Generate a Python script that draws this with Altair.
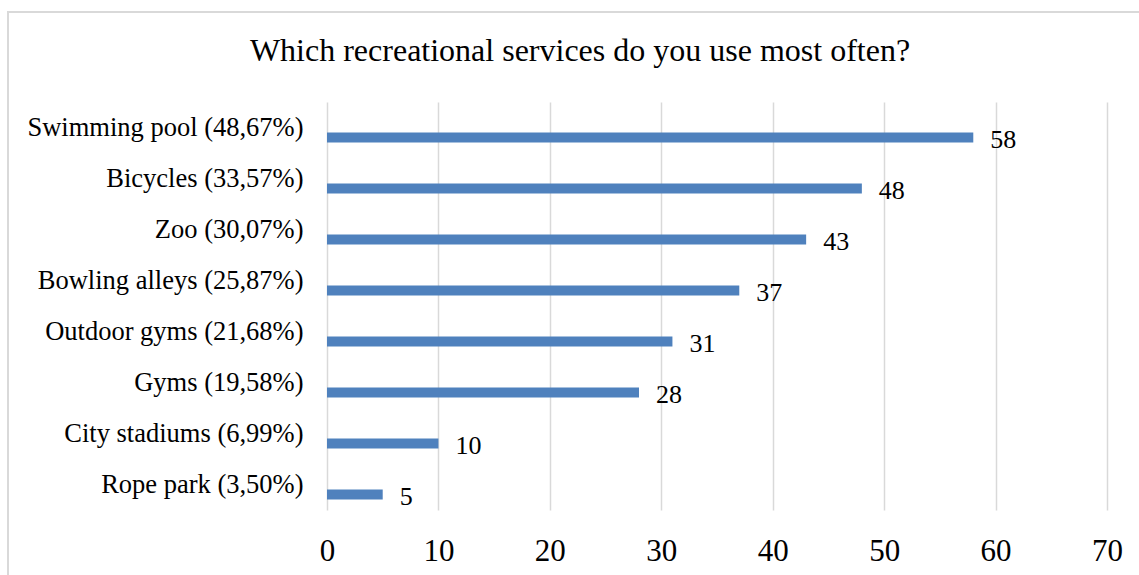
import altair as alt
import pandas as pd

categories = [
    "Swimming pool (48,67%)",
    "Bicycles (33,57%)",
    "Zoo (30,07%)",
    "Bowling alleys (25,87%)",
    "Outdoor gyms (21,68%)",
    "Gyms (19,58%)",
    "City stadiums (6,99%)",
    "Rope park (3,50%)",
]
values = [58, 48, 43, 37, 31, 28, 10, 5]
x_ticks = [0, 10, 20, 30, 40, 50, 60, 70]

df = pd.DataFrame({"category": categories, "value": values})

FONT = "Liberation Serif"
PLOT_LEFT, PLOT_TOP, W, H = 327, 102, 780, 408

y_enc = alt.Y(
    "category:N",
    sort=categories,
    title=None,
    scale=alt.Scale(paddingInner=0, paddingOuter=0),
    axis=alt.Axis(domain=False, ticks=False, labelFontSize=26.5, labelFont=FONT,
                  labelColor="#000000", labelPadding=24, labelLimit=400),
)
x_enc = alt.X(
    "value:Q",
    title=None,
    scale=alt.Scale(domain=[0, 70], nice=False),
    axis=alt.Axis(values=x_ticks, domain=False, ticks=False, grid=True, labelFlush=False,
                  gridColor="#D9D9D9", gridWidth=1.5, labelFontSize=31, labelFont=FONT,
                  labelColor="#000000", labelPadding=26),
)

bars = alt.Chart(df).mark_bar(color="#4F81BD", size=10, yOffset=10).encode(x=x_enc, y=y_enc)
labels = alt.Chart(df).mark_text(
    align="left", baseline="middle", dx=17, dy=12, fontSize=26, font=FONT, color="#000000"
).encode(x="value:Q", y=alt.Y("category:N", sort=categories), text="value:Q")

border = alt.Chart(df).mark_rect(fill=None, stroke="#D9D9D9", strokeWidth=1.5).encode(
    x=alt.value(8 - PLOT_LEFT), x2=alt.value(1139 - PLOT_LEFT + 20),
    y=alt.value(12 - PLOT_TOP), y2=alt.value(575 - PLOT_TOP + 20),
)

chart = alt.layer(border, bars, labels).properties(
    width=W, height=H,
    title=alt.TitleParams(
        "Which recreational services do you use most often?",
        font=FONT, fontSize=32, fontWeight="normal", color="#000000",
        anchor="middle", frame="group", dx=-137, offset=0, dy=57,
    ),
    autosize=alt.AutoSizeParams(type="none"),
    padding={"left": PLOT_LEFT, "top": PLOT_TOP, "right": 1139 - PLOT_LEFT - W, "bottom": 575 - PLOT_TOP - H},
).configure(background="white").configure_view(stroke="transparent", strokeWidth=0)

chart.save("out.html", embed_options={"renderer": "svg", "actions": False})
